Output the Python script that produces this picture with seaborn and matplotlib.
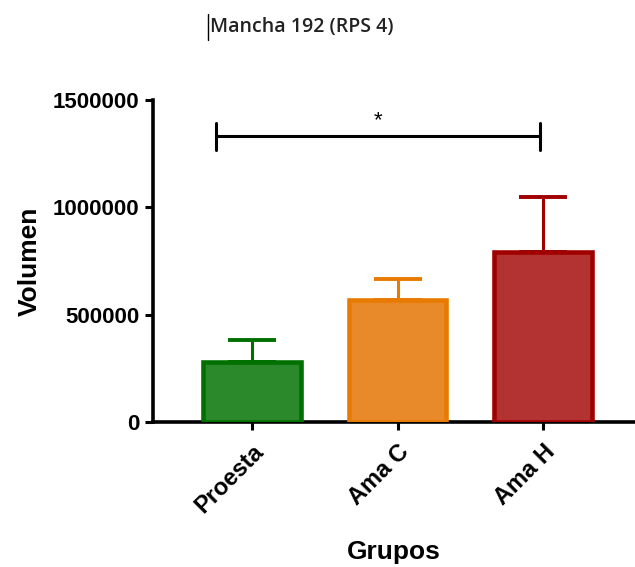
import matplotlib
matplotlib.use("Agg")
import matplotlib.pyplot as plt
import seaborn as sns
import pandas as pd
from matplotlib.lines import Line2D

groups = ["Proesta", "Ama C", "Ama H"]
means = [280000, 570000, 791000]
sd = [102000, 96000, 256000]
fill_colors = ["#2b882b", "#e8892a", "#b33333"]
edge_colors = ["#007000", "#e87a00", "#a00000"]
yticks = [0, 500000, 1000000, 1500000]
title = "Mancha 192 (RPS 4)"
sig_label = "*"
sig_height = 1330000

sns.set_theme(style="white")
plt.rcParams["font.family"] = ["Liberation Sans", "DejaVu Sans"]
plt.rcParams["text.color"] = "black"
plt.rcParams["axes.labelcolor"] = "black"
plt.rcParams["xtick.color"] = "black"
plt.rcParams["ytick.color"] = "black"

df = pd.DataFrame({"Grupos": groups, "Volumen": means})

fig = plt.figure(figsize=(6.35, 5.67), dpi=100)
ax = fig.add_axes([0.241, 0.2557, 0.759, 0.568])

sns.barplot(data=df, x="Grupos", y="Volumen", hue="Grupos", palette=fill_colors,
            saturation=1, errorbar=None, width=0.67, legend=False, ax=ax, zorder=3)
for patch, ec in zip(ax.patches, edge_colors):
    patch.set_edgecolor(ec)
    patch.set_linewidth(3.3)

for i, (m, s, ec) in enumerate(zip(means, sd, edge_colors)):
    ax.errorbar(i, m, yerr=[[0], [s]], fmt="none", ecolor=ec, elinewidth=2.2,
                capsize=17, capthick=2.8, zorder=2)

# significance bracket
x0, x1 = -0.25, 1.98
tick_h = 65000
ax.plot([x0, x1], [sig_height, sig_height], color="black", lw=2.2, clip_on=False)
ax.plot([x0, x0], [sig_height - tick_h, sig_height + tick_h], color="black", lw=2.2, clip_on=False)
ax.plot([x1, x1], [sig_height - tick_h, sig_height + tick_h], color="black", lw=2.2, clip_on=False)
ax.text((x0 + x1) / 2, sig_height + 25000, sig_label, ha="center", va="bottom",
        fontsize=16, color="black")

ax.set_xlim(-0.68, 2.63)
ax.set_ylim(0, 1500000)
ax.set_yticks(yticks)
ax.set_yticklabels([str(v) for v in yticks], fontsize=16, fontweight="bold")
ax.set_xticks(range(len(groups)))
ax.set_xticklabels(groups, rotation=45, ha="right", rotation_mode="anchor",
                   fontsize=17, fontweight="bold")
ax.tick_params(axis="y", which="major", length=6, width=2.2, color="black",
               left=True, pad=4)
ax.tick_params(axis="x", which="major", length=6, width=2.2, color="black",
               bottom=True, pad=7)
ax.set_xlabel("Grupos", fontsize=19, fontweight="bold", labelpad=16)
ax.set_ylabel("Volumen", fontsize=19, fontweight="bold", labelpad=8)

sns.despine(ax=ax)
for sp in ["left", "bottom"]:
    ax.spines[sp].set_linewidth(2.6)
    ax.spines[sp].set_color("black")

fig.text(0.331, 0.952, title, fontsize=14, fontweight="semibold",
         family=["Open Sans", "DejaVu Sans"], ha="left", va="center", color="#222222")
fig.add_artist(Line2D([0.327, 0.327], [0.930, 0.975], color="black", lw=1.0))

fig.savefig("out.png", dpi=100)
